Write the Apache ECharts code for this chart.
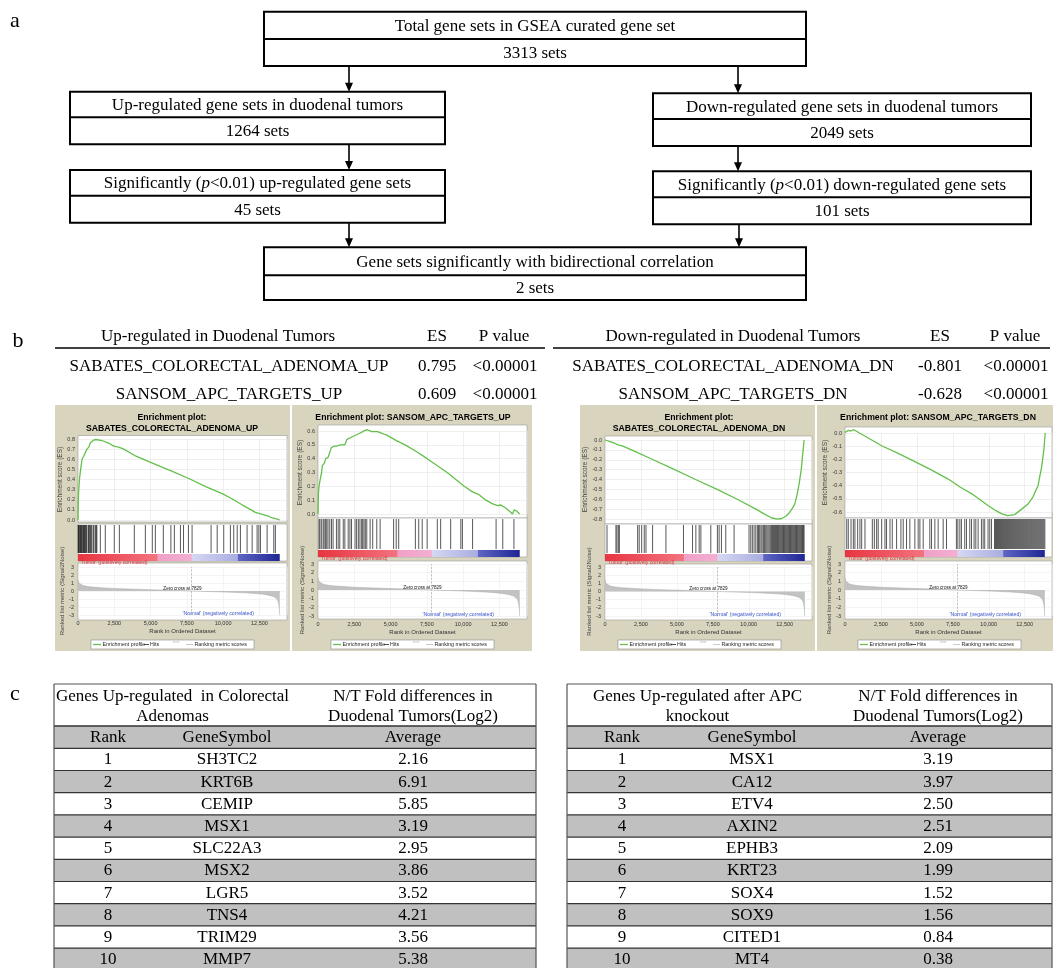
<!DOCTYPE html>
<html>
<head>
<meta charset="utf-8">
<script src="https://cdn.jsdelivr.net/npm/echarts@6.0.0/dist/echarts.min.js"></script>
<style>
html,body{margin:0;padding:0;background:#ffffff;}
#chart{width:1053px;height:968px;}
</style>
</head>
<body>
<div id="chart"></div>
<script>
// ======================= DATA =======================
const flowTitles = [
  'Total gene sets in GSEA curated gene set',
  'Up-regulated gene sets in duodenal tumors',
  'Down-regulated gene sets in duodenal tumors',
  'Significantly ({i|p}<0.01) up-regulated gene sets',
  'Significantly ({i|p}<0.01) down-regulated gene sets',
  'Gene sets significantly with bidirectional correlation'
];
const flowCounts = ['3313 sets', '1264 sets', '2049 sets', '45 sets', '101 sets', '2 sets'];

const esHeaderUp = ['Up-regulated in Duodenal Tumors', 'ES', 'P value'];
const esHeaderDn = ['Down-regulated in Duodenal Tumors', 'ES', 'P value'];
const esRowsUp = [['SABATES_COLORECTAL_ADENOMA_UP', '0.795', '<0.00001'], ['SANSOM_APC_TARGETS_UP', '0.609', '<0.00001']];
const esRowsDn = [['SABATES_COLORECTAL_ADENOMA_DN', '-0.801', '<0.00001'], ['SANSOM_APC_TARGETS_DN', '-0.628', '<0.00001']];

const gseaTitles = [
  ['Enrichment plot:', 'SABATES_COLORECTAL_ADENOMA_UP'],
  ['Enrichment plot: SANSOM_APC_TARGETS_UP'],
  ['Enrichment plot:', 'SABATES_COLORECTAL_ADENOMA_DN'],
  ['Enrichment plot: SANSOM_APC_TARGETS_DN']
];
const rankMax = 14400;
const rankTickStep = 2500;
const zeroCross = 7829;

const esSabatesUp = [[0,0],[20,0.15],[40,0.27],[100,0.4],[180,0.5],[280,0.6],[390,0.63],[500,0.64],[620,0.7],[740,0.72],[850,0.76],[1080,0.79],[1240,0.795],[1650,0.785],[2100,0.76],[2460,0.73],[2800,0.72],[3150,0.70],[4000,0.63],[5330,0.55],[6500,0.48],[7630,0.41],[8800,0.33],[9930,0.26],[10600,0.21],[11300,0.15],[11800,0.11],[12220,0.075],[12700,0.055],[13070,0.04],[13200,0.042],[13400,0.02],[13790,0.005],[13900,0]];
const esSansomUp = [[0,0],[30,0.15],[70,0.2],[150,0.25],[250,0.3],[300,0.35],[450,0.37],[530,0.4],[700,0.41],[920,0.48],[1100,0.49],[1300,0.49],[1500,0.5],[1850,0.5],[2000,0.54],[2080,0.55],[2400,0.56],[2800,0.58],[3000,0.59],[3240,0.605],[3400,0.609],[3700,0.595],[4100,0.595],[4500,0.58],[4750,0.57],[5400,0.53],[6000,0.5],[6800,0.45],[7520,0.4],[8200,0.35],[8900,0.3],[9500,0.25],[10070,0.2],[10640,0.16],[10700,0.165],[11100,0.14],[11570,0.1],[12000,0.075],[12380,0.06],[12600,0.065],[12900,0.045],[13200,0.02],[13400,0.0],[13520,0.03],[13700,0.02],[13890,0.0]];
const esSabatesDn = [[0,0],[300,-0.015],[700,-0.035],[900,-0.05],[1200,-0.06],[2000,-0.11],[3200,-0.19],[4700,-0.29],[6300,-0.4],[7800,-0.5],[9200,-0.6],[10500,-0.7],[11100,-0.75],[11600,-0.79],[12000,-0.801],[12300,-0.795],[12600,-0.77],[12800,-0.74],[13000,-0.70],[13200,-0.65],[13350,-0.56],[13500,-0.45],[13650,-0.3],[13750,-0.15],[13850,0]];
const esSansomDn = [[0,0.005],[100,0.01],[250,0.02],[400,0.015],[580,0.025],[810,0.013],[1000,0.0],[1500,-0.03],[2550,-0.097],[3700,-0.155],[4860,-0.217],[6000,-0.28],[7180,-0.35],[8000,-0.41],[8800,-0.46],[9950,-0.55],[10500,-0.59],[10880,-0.612],[11300,-0.628],[11800,-0.62],[12270,-0.58],[12730,-0.54],[13080,-0.485],[13300,-0.43],[13430,-0.4],[13550,-0.33],[13660,-0.27],[13750,-0.2],[13840,-0.12],[13930,0]];

const hitsSabatesUp = [10,40,70,120,160,190,240,280,330,380,420,450,520,560,600,700,740,780,850,900,950,1050,1100,1200,1260,1300,1540,1880,2500,2850,3880,4640,5120,5330,5880,6400,6640,7060,7270,7610,7860,9170,9590,10040,10500,10730,10970,11190,11650,12000,12340,12460,12570,13030,13490,13600];
const hitsSansomUp = [70,130,230,350,420,510,600,690,810,930,1040,1270,1390,1500,1740,1850,2080,2200,2310,2550,2660,2780,2890,3010,3080,3170,3260,3360,3590,3770,4050,4280,5210,5390,5560,6710,6940,7180,7520,8220,8450,9140,9840,9950,10650,12270,12730,13500];
const hitsSabatesDn = [140,760,830,930,1000,2270,2380,2550,2730,2850,3310,4240,5460,6090,6320,6550,6670,7360,7820,7940,8100,8400,8980,10020,10140,10250,10370,10490,10600,10680,10760,10850,10930,11020,11100,11180,11260,11340,11420,11500,11580,11650,11720,11790,11860,11930,12000,12060,12120,12180,12240,12300,12360,12420,12480,12540,12600,12660,12720,12780,12840,12900,12960,13020,13080,13140,13200,13260,13320,13380,13440,13500,13560,13620,13680,13740,13800,13850];
const hitsSansomDn = [120,230,420,580,690,880,1040,1160,1390,1900,2040,2200,2310,2550,2780,2890,3130,3290,3590,3890,4050,4280,4510,4860,5090,5210,5440,5900,6020,6250,6480,6830,7060,7750,7850,7990,8100,8330,8450,8680,8800,8980,9100,9260,9490,9610,9720,9950,10070,10190,10400,10470,10540,10610,10680,10750,10820,10890,10960,11030,11100,11170,11240,11310,11380,11450,11520,11590,11660,11730,11800,11870,11940,12010,12080,12150,12220,12290,12360,12430,12500,12570,12640,12710,12780,12850,12920,12990,13060,13130,13200,13270,13340,13410,13480,13550,13620,13690,13760,13830,13900];

const rankedMetric = [[0,1.4],[20,1.2],[60,1.0],[150,0.85],[300,0.72],[500,0.62],[800,0.53],[1200,0.46],[1800,0.39],[2500,0.32],[3500,0.25],[4500,0.19],[5500,0.14],[6500,0.09],[7200,0.05],[7829,0],[8500,-0.04],[9500,-0.09],[10500,-0.15],[11500,-0.23],[12200,-0.31],[12800,-0.42],[13200,-0.55],[13500,-0.72],[13700,-0.98],[13800,-1.35],[13860,-2.0],[13890,-2.8],[13900,-3.1]];
const colorbarBreaks = [0, 5500, 7850, 11000, 13900];

const tableLeftHead = ['Genes Up-regulated  in Colorectal', 'Adenomas'];
const tableRightHead = ['Genes Up-regulated after APC', 'knockout'];
const tableValueHead = ['N/T Fold differences in', 'Duodenal Tumors(Log2)'];
const tableColHeads = ['Rank', 'GeneSymbol', 'Average'];
const tableRanks = [1, 2, 3, 4, 5, 6, 7, 8, 9, 10];
const tableLeftGenes = ['SH3TC2', 'KRT6B', 'CEMIP', 'MSX1', 'SLC22A3', 'MSX2', 'LGR5', 'TNS4', 'TRIM29', 'MMP7'];
const tableLeftValues = [2.16, 6.91, 5.85, 3.19, 2.95, 3.86, 3.52, 4.21, 3.56, 5.38];
const tableRightGenes = ['MSX1', 'CA12', 'ETV4', 'AXIN2', 'EPHB3', 'KRT23', 'SOX4', 'SOX9', 'CITED1', 'MT4'];
const tableRightValues = [3.19, 3.97, 2.50, 2.51, 2.09, 1.99, 1.52, 1.56, 0.84, 0.38];

// ======================= STYLE / LAYOUT =======================
const SERIF = "'Liberation Serif', 'Times New Roman', serif";
const SANS = "'Liberation Sans', Arial, sans-serif";
const BEIGE = '#d8d4be';
const GREEN = '#63c04a';
const GRAY_ROW = '#c0c0c0';
const FLOW_FONT = 17;
const colorbarColors = [['#e83440', '#f27480'], ['#f0a0c8', '#f3afd2'], ['#d6d8f3', '#a9ade0'], ['#5f66c4', '#1f2694']];

const FLOW_LAYOUT = [
  [264, 11.7, 542, 54.3, 39],
  [70, 91.7, 375, 52.6, 117.3],
  [653, 93.3, 378, 52.7, 119],
  [70, 170, 375, 52.7, 195.7],
  [653, 171.3, 378, 53, 197.3],
  [264, 247.3, 542, 52.7, 275.3]
];
const ARROWS = [[349, 66, 91.7], [738, 66, 93.3], [349, 144.3, 170], [738, 146, 171.3], [349, 222.7, 247.3], [739, 224.3, 247.3]];

const PANEL_LAYOUT = [
  {bg: [55, 405, 235, 246], titleX: 172, left: 78, w: 209, es: [439, 81], esFrame: [435.5, 86.5], esGap: 14, hits: [524, 37], met: [567, 48], metFrame: [563, 57], esRange: [0, 0.8]},
  {bg: [292, 405, 240, 246], titleX: 413, left: 318, w: 209, es: [431, 83], esFrame: [425, 93], esGap: 12, hits: [518, 39], met: [564, 52], metFrame: [561, 58], esRange: [0, 0.6]},
  {bg: [580, 405, 235, 246], titleX: 699, left: 605, w: 207, es: [440, 79], esFrame: [436, 88], esGap: 14, hits: [524, 37], met: [567, 49], metFrame: [564, 56], esRange: [-0.8, 0]},
  {bg: [817, 405, 236, 246], titleX: 938, left: 845, w: 207, es: [433, 79], esFrame: [427, 91], esGap: 14, hits: [518, 39], met: [564, 52], metFrame: [561, 58], esRange: [-0.6, 0]}
];
const esCurves = [esSabatesUp, esSansomUp, esSabatesDn, esSansomDn];
const hitSets = [hitsSabatesUp, hitsSansomUp, hitsSabatesDn, hitsSansomDn];

// ======================= HELPERS =======================
const G = [];
function T(x, y, text, size, o) {
  o = o || {};
  const align = o.align || 'center', va = o.va || 'middle';
  const st = {
    text: text, x: 0, y: 0, fill: o.color || '#000',
    fontSize: size, fontFamily: o.family || SERIF, fontWeight: o.weight || 'normal', fontStyle: o.fstyle || 'normal',
    align: align, verticalAlign: va, textAlign: align, textVerticalAlign: va
  };
  if (o.rich) st.rich = o.rich;
  G.push({type: 'text', x: x, y: y, rotation: o.rotation || 0, z: o.z != null ? o.z : 100, silent: true, style: st});
}
function RECT(x, y, w, h, fill, stroke, lw, z) {
  G.push({type: 'rect', z: z != null ? z : -5, silent: true, shape: {x: x, y: y, width: w, height: h},
    style: {fill: fill || 'none', stroke: stroke || null, lineWidth: lw || 0}});
}
function LINE(x1, y1, x2, y2, stroke, lw, z) {
  G.push({type: 'line', z: z != null ? z : 50, silent: true, shape: {x1: x1, y1: y1, x2: x2, y2: y2},
    style: {stroke: stroke, lineWidth: lw}});
}
const thousands = v => String(Math.round(v)).replace(/\B(?=(\d{3})+(?!\d))/g, ',');

// ======================= SECTION a: flowchart =======================
T(15, 21, 'a', 22);
const italicRich = {i: {fontStyle: 'italic', fontFamily: SERIF, fontSize: FLOW_FONT, fill: '#000'}};
FLOW_LAYOUT.forEach(([x, y, w, h, d], k) => {
  RECT(x, y, w, h, '#fff', '#000', 2, 10);
  LINE(x, d, x + w, d, '#000', 2, 11);
  T(x + w / 2, (y + d) / 2 + 1, flowTitles[k], FLOW_FONT, {rich: italicRich});
  T(x + w / 2, (d + y + h) / 2 + 1, flowCounts[k], FLOW_FONT);
});
ARROWS.forEach(([x, y1, y2]) => {
  LINE(x, y1, x, y2 - 6, '#000', 1.6, 12);
  G.push({type: 'polygon', z: 12, silent: true, shape: {points: [[x - 4, y2 - 9], [x + 4, y2 - 9], [x, y2]]}, style: {fill: '#000'}});
});

// ======================= SECTION b: ES table =======================
T(18, 341, 'b', 22);
const B_HEAD_Y = 337, B_LINE_Y = 348, B_ROW_Y = [367, 395];
const bLeftHeadX = [218, 437, 504], bLeftColX = [229, 437, 505];
const bRightHeadX = [733, 940, 1015], bRightColX = [733, 940, 1016];
esHeaderUp.forEach((t, j) => T(bLeftHeadX[j], B_HEAD_Y, t, 17));
esHeaderDn.forEach((t, j) => T(bRightHeadX[j], B_HEAD_Y, t, 17));
LINE(55, B_LINE_Y, 545, B_LINE_Y, '#000', 1.6);
LINE(553, B_LINE_Y, 1050, B_LINE_Y, '#000', 1.6);
esRowsUp.forEach((row, r) => row.forEach((t, j) => T(bLeftColX[j], B_ROW_Y[r], t, 17)));
esRowsDn.forEach((row, r) => row.forEach((t, j) => T(bRightColX[j], B_ROW_Y[r], t, 17)));

// ======================= SECTION b: GSEA panels =======================
const grids = [], xAxes = [], yAxes = [], series = [];
PANEL_LAYOUT.forEach((L, i) => {
  const [bx, by, bw, bh] = L.bg;
  RECT(bx, by, bw, bh, BEIGE, null, 0, -10);
  RECT(L.left, L.esFrame[0], L.w, L.esFrame[1], '#fff', '#9a9a9a', 0.6, -5);
  RECT(L.left, L.hits[0], L.w, L.hits[1], '#fff', '#9a9a9a', 0.6, -5);
  RECT(L.left, L.metFrame[0], L.w, L.metFrame[1], '#fff', '#9a9a9a', 0.6, -5);
  const tl = gseaTitles[i];
  if (tl.length === 2) {
    T(L.titleX, 418, tl[0], 8.7, {family: SANS, weight: 'bold'});
    T(L.titleX, 429, tl[1], 8.7, {family: SANS, weight: 'bold'});
  } else {
    T(L.titleX, 418, tl[0], 8.7, {family: SANS, weight: 'bold'});
  }
  const hitsBottom = L.hits[0] + L.hits[1];
  const metBottom = L.met[0] + L.met[1];
  T(L.left + 2, hitsBottom + 2, "'Tumor' (positively correlated)", 5.2, {family: SANS, color: '#e0303c', align: 'left'});
  T(L.left + 176, metBottom - 1.5, "'Normal' (negatively correlated)", 5.2, {family: SANS, color: '#3a55c8', align: 'right'});
  T(L.left + L.w * 0.5, L.met[0] + L.met[1] / 2 - 2.5, 'Zero cross at ' + zeroCross, 4.6, {family: SANS, color: '#111'});
  const lx = L.left + 13, ly = 640;
  RECT(lx, ly, 163, 9, '#fff', '#8a8a8a', 0.6, 20);
  LINE(lx + 2, ly + 4.5, lx + 10, ly + 4.5, GREEN, 1.3, 21);
  T(lx + 11.5, ly + 4.7, 'Enrichment profile', 5.3, {family: SANS, align: 'left', color: '#222'});
  LINE(lx + 53, ly + 4.5, lx + 58, ly + 4.5, '#222', 0.8, 21);
  T(lx + 59, ly + 4.7, 'Hits', 5.3, {family: SANS, align: 'left', color: '#222'});
  RECT(lx + 82, ly + 1, 6, 1.5, '#e4e4e4', '#cfcfcf', 0.4, 21);
  LINE(lx + 95, ly + 4.5, lx + 102, ly + 4.5, '#bbb', 0.8, 21);
  T(lx + 103.5, ly + 4.7, 'Ranking metric scores', 5.3, {family: SANS, align: 'left', color: '#222'});

  const gi = i * 3;
  grids.push(
    {left: L.left, top: L.es[0], width: L.w, height: L.es[1], outerBoundsMode: 'none'},
    {left: L.left, top: L.hits[0], width: L.w, height: L.hits[1], outerBoundsMode: 'none'},
    {left: L.left, top: L.met[0], width: L.w, height: L.met[1], outerBoundsMode: 'none'}
  );
  const splitX = {show: true, lineStyle: {color: '#e4e4e4', width: 0.6}};
  xAxes.push(
    {type: 'value', gridIndex: gi, min: 0, max: rankMax, interval: rankTickStep, axisLabel: {show: false}, axisLine: {show: false}, axisTick: {show: false}, splitLine: splitX},
    {type: 'value', gridIndex: gi + 1, min: 0, max: rankMax, interval: rankTickStep, show: false},
    {type: 'value', gridIndex: gi + 2, min: 0, max: rankMax, interval: rankTickStep,
      axisLabel: {fontSize: 5.5, color: '#333', fontFamily: SANS, margin: 5, showMaxLabel: false, formatter: thousands},
      axisLine: {show: false}, axisTick: {show: false},
      splitLine: {show: true, lineStyle: {color: '#ececec', width: 0.6}},
      name: 'Rank in Ordered Dataset', nameLocation: 'middle', nameGap: 13,
      nameTextStyle: {fontSize: 6, color: '#333', fontFamily: SANS}}
  );
  yAxes.push(
    {type: 'value', gridIndex: gi, min: L.esRange[0], max: L.esRange[1], interval: 0.1,
      axisLabel: {fontSize: 5.5, color: '#333', fontFamily: SANS, margin: 3, formatter: v => v.toFixed(1)},
      axisLine: {show: false}, axisTick: {show: false},
      splitLine: {show: true, lineStyle: {color: '#e4e4e4', width: 0.6}},
      name: 'Enrichment score (ES)', nameLocation: 'middle', nameGap: L.esGap,
      nameTextStyle: {fontSize: 6.5, color: '#444', fontFamily: SANS}},
    {type: 'value', gridIndex: gi + 1, min: 0, max: 1, show: false},
    {type: 'value', gridIndex: gi + 2, min: -3, max: 3, interval: 1,
      axisLabel: {fontSize: 5.5, color: '#333', fontFamily: SANS, margin: 4},
      axisLine: {show: false}, axisTick: {show: false},
      splitLine: {show: true, lineStyle: {color: '#ececec', width: 0.6}},
      name: 'Ranked list metric (Signal2Noise)', nameLocation: 'middle', nameGap: 9.5,
      nameTextStyle: {fontSize: 6, color: '#444', fontFamily: SANS}}
  );
  series.push({
    type: 'line', xAxisIndex: gi, yAxisIndex: gi, data: esCurves[i], showSymbol: false, symbol: 'none',
    clip: false, z: 5, lineStyle: {color: GREEN, width: 1.3}
  });
  series.push({
    type: 'custom', xAxisIndex: gi + 1, yAxisIndex: gi + 1, z: 4,
    data: hitSets[i].map(v => [v, 0]), encode: {x: 0, y: 1},
    renderItem: function (params, api) {
      const cs = params.coordSys;
      const x = api.coord([api.value(0), 0])[0];
      return {type: 'line', shape: {x1: x, y1: cs.y + 1, x2: x, y2: cs.y + cs.height - 8},
        style: {stroke: '#111', lineWidth: 0.7}};
    }
  });
  const segs = [];
  for (let k = 0; k < colorbarBreaks.length - 1; k++) segs.push([colorbarBreaks[k], colorbarBreaks[k + 1], k]);
  series.push({
    type: 'custom', xAxisIndex: gi + 1, yAxisIndex: gi + 1, z: 4,
    data: segs, encode: {x: [0, 1]},
    renderItem: function (params, api) {
      const cs = params.coordSys;
      const x0 = api.coord([api.value(0), 0])[0];
      const x1 = api.coord([api.value(1), 0])[0];
      const c = colorbarColors[api.value(2)];
      return {type: 'rect', shape: {x: x0, y: cs.y + cs.height - 7, width: x1 - x0, height: 7},
        style: {fill: new echarts.graphic.LinearGradient(0, 0, 1, 0, [{offset: 0, color: c[0]}, {offset: 1, color: c[1]}])}};
    }
  });
  series.push({
    type: 'line', xAxisIndex: gi + 2, yAxisIndex: gi + 2, data: rankedMetric, showSymbol: false, symbol: 'none',
    z: 3, lineStyle: {color: '#ababab', width: 0.5}, areaStyle: {color: '#c2c2c2', opacity: 1},
    markLine: {silent: true, symbol: 'none', label: {show: false},
      lineStyle: {color: '#9a9a9a', type: 'dashed', width: 0.6}, data: [{xAxis: zeroCross}]}
  });
});

// ======================= SECTION c: tables =======================
T(15, 694, 'c', 22);
const TAB_TOP = 684, TAB_HEAD_BOT = 726, TAB_ROW0 = 748.3, TAB_STEP = 22.2;
function drawTable(x0, x1, colX, headX, headLeft, genes, values) {
  RECT(x0, TAB_TOP, x1 - x0, TAB_HEAD_BOT - TAB_TOP, '#fff', null, 0, -5);
  RECT(x0, TAB_HEAD_BOT, x1 - x0, TAB_ROW0 - TAB_HEAD_BOT, GRAY_ROW, null, 0, -5);
  tableRanks.forEach((r, k) => {
    const y = TAB_ROW0 + TAB_STEP * k;
    RECT(x0, y, x1 - x0, TAB_STEP, k % 2 === 1 ? GRAY_ROW : '#fff', null, 0, -5);
  });
  LINE(x0, TAB_TOP, x1, TAB_TOP, '#555', 1.2);
  LINE(x0, TAB_HEAD_BOT, x1, TAB_HEAD_BOT, '#333', 1.4);
  for (let k = 0; k <= tableRanks.length; k++) {
    const y = TAB_ROW0 + TAB_STEP * k;
    LINE(x0, y, x1, y, '#333', 1.2);
  }
  LINE(x0, TAB_TOP, x0, 968, '#555', 1.2);
  LINE(x1, TAB_TOP, x1, 968, '#555', 1.2);
  T(headX, 697, headLeft[0], 17);
  T(headX, 717, headLeft[1], 17);
  T(colX[2], 697, tableValueHead[0], 17);
  T(colX[2], 717, tableValueHead[1], 17);
  tableColHeads.forEach((t, j) => T(colX[j], 738, t, 17));
  tableRanks.forEach((r, k) => {
    const yc = TAB_ROW0 + TAB_STEP * k + TAB_STEP / 2 + 0.5;
    T(colX[0], yc, String(r), 17);
    T(colX[1], yc, genes[k], 17);
    T(colX[2], yc, values[k].toFixed(2), 17);
  });
}
drawTable(54, 536, [108, 227, 413], 172.5, tableLeftHead, tableLeftGenes, tableLeftValues);
drawTable(567, 1052, [622, 752, 938], 697.5, tableRightHead, tableRightGenes, tableRightValues);

// ======================= CHART =======================
const chart = echarts.init(document.getElementById('chart'), null, {renderer: 'canvas', width: 1053, height: 968});
chart.setOption({
  animation: false,
  backgroundColor: '#ffffff',
  grid: grids,
  xAxis: xAxes,
  yAxis: yAxes,
  series: series,
  graphic: {elements: G}
});
</script>
</body>
</html>
